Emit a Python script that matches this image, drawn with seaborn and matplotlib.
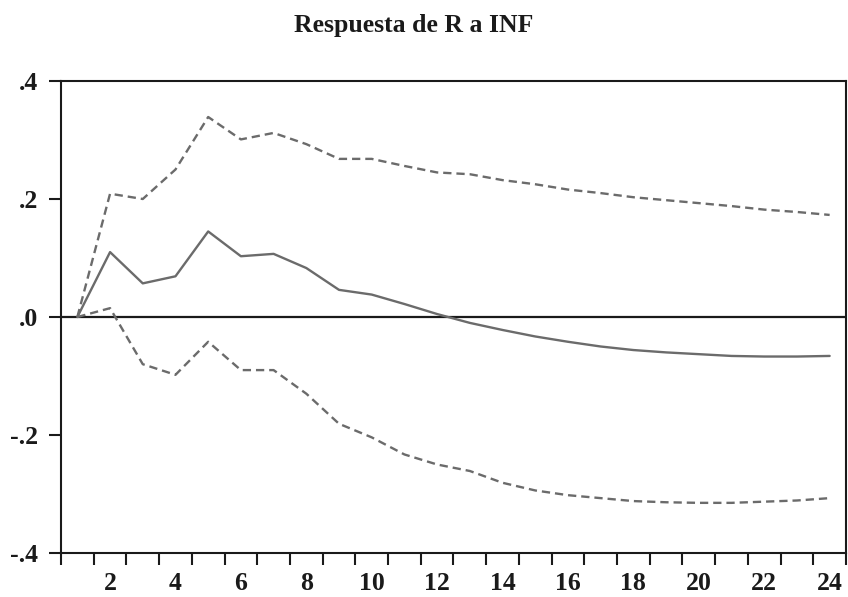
import numpy as np
import pandas as pd
import matplotlib
matplotlib.use("Agg")
import matplotlib.pyplot as plt
import seaborn as sns

# Impulse response of R to a shock in INF, with +/- 2 s.e. bands
periods = list(range(1, 25))
response = [0.000, 0.110, 0.057, 0.069, 0.145, 0.103, 0.107, 0.083, 0.046, 0.038,
            0.022, 0.005, -0.010, -0.022, -0.033, -0.042, -0.050, -0.056, -0.060,
            -0.063, -0.066, -0.067, -0.067, -0.066]
upper = [0.000, 0.209, 0.200, 0.250, 0.339, 0.301, 0.312, 0.293, 0.268, 0.268,
         0.256, 0.245, 0.242, 0.232, 0.225, 0.216, 0.210, 0.203, 0.198, 0.193,
         0.188, 0.182, 0.178, 0.173]
lower = [0.000, 0.015, -0.080, -0.098, -0.042, -0.090, -0.090, -0.130, -0.181, -0.204,
         -0.233, -0.250, -0.261, -0.281, -0.294, -0.302, -0.307, -0.312, -0.314,
         -0.315, -0.315, -0.313, -0.311, -0.307]
x_labels = [2, 4, 6, 8, 10, 12, 14, 16, 18, 20, 22, 24]
y_ticks = [-0.4, -0.2, 0.0, 0.2, 0.4]
y_labels = ["-.4", "-.2", ".0", ".2", ".4"]
title = "Respuesta de R a INF"

df = pd.DataFrame({"periodo": periods, "respuesta": response,
                   "superior": upper, "inferior": lower})

sns.set_theme(style="white")
plt.rcParams["font.family"] = ["Liberation Serif", "DejaVu Serif"]
plt.rcParams["font.weight"] = "bold"

W, H = 848, 597
fig = plt.figure(figsize=(W / 100, H / 100), dpi=100)
ax = fig.add_axes([61 / W, 1 - 553 / H, (846 - 61) / W, (553 - 81) / H])

line_col = "#6b6b6b"
sns.lineplot(data=df, x="periodo", y="respuesta", ax=ax, color=line_col, lw=1.7)
sns.lineplot(data=df, x="periodo", y="superior", ax=ax, color=line_col, lw=1.7,
             dashes=False).lines[-1].set_dashes((3.5, 2.1))
sns.lineplot(data=df, x="periodo", y="inferior", ax=ax, color=line_col, lw=1.7,
             dashes=False).lines[-1].set_dashes((3.5, 2.1))

ax.axhline(0, color="#1a1a1a", lw=1.6, zorder=1)

ax.set_xlim(0.5, 24.5)
ax.set_ylim(-0.4, 0.4)

ax.set_xticks(x_labels)
ax.set_xticklabels([str(v) for v in x_labels])
ax.set_xticks(np.arange(0.5, 25.0, 1.0), minor=True)
ax.tick_params(axis="x", which="major", length=0, pad=14, labelsize=18.5,
               colors="#1a1a1a")
ax.tick_params(axis="x", which="minor", bottom=True, length=8.6, width=1.5,
               color="#1a1a1a", direction="out")

ax.set_yticks(y_ticks)
ax.set_yticklabels(y_labels)
ax.tick_params(axis="y", which="major", left=True, length=8.6, width=1.5,
               pad=8, labelsize=18.5, colors="#1a1a1a", direction="out")

for s in ax.spines.values():
    s.set_visible(True)
    s.set_color("#1a1a1a")
    s.set_linewidth(1.5)

ax.set_xlabel("")
ax.set_ylabel("")
ax.grid(False)

fig.text(414 / W, 1 - 32 / H, title, ha="center", va="baseline",
         fontsize=18.5, fontweight="bold", color="#1a1a1a")

fig.savefig("out.png", dpi=100, facecolor="white")
